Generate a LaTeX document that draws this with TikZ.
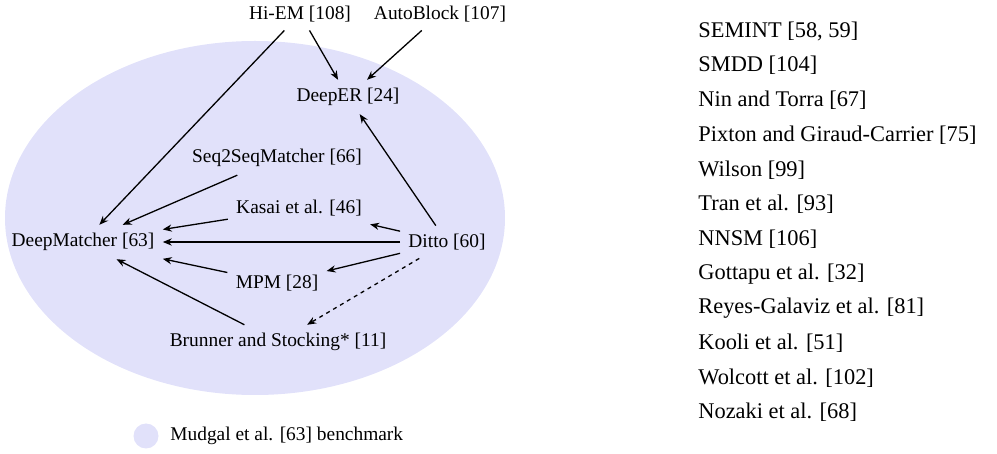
\documentclass[tikz,border=0pt]{standalone}
\usepackage{fontspec}
\setmainfont{Liberation Serif}
\usetikzlibrary{shapes}
\usetikzlibrary{arrows.meta}
\definecolor{benchblue}{RGB}{225,225,250}

\begin{document}
\begin{tikzpicture}[x=0.5pt,y=-0.5pt]
			\tikzstyle{paper}=[font=\fontsize{9.7}{11}\selectfont, inner sep=4pt]
			\tikzstyle{other}=[font=\fontsize{11.2}{13}\selectfont, inner sep=3pt, anchor=west]
			\tikzstyle{cites}=[-{Stealth[length=4.5pt,width=3.6pt]}, line width=0.65pt]
			\useasboundingbox (0,0) rectangle (997,454);
			
			% benchmark area
			\fill[benchblue] (255,218) ellipse [x radius=250, y radius=177];
			
			\node[paper] (hiem) at (300,14) {Hi-EM [108]};
			\node[paper] (autoblock) at (440,14) {AutoBlock [107]};
			\node[paper] (deeper) at (348,97) {DeepER [24]};
			\node[paper] (seqseq) at (277,158) {Seq2SeqMatcher [66]};
			\node[paper] (kasai) at (299,208) {Kasai et al. [46]};
			\node[paper] (deepmatcher) at (83,242) {DeepMatcher [63]};
			\node[paper] (ditto) at (447,242) {Ditto [60]};
			\node[paper] (mpm) at (277,283) {MPM [28]};
			\node[paper] (brunner) at (278,342) {Brunner and Stocking* [11]};
			
			\draw[cites] (hiem) -- (deepmatcher);
			\draw[cites] (hiem) -- (deeper);
			\draw[cites] (autoblock) -- (deeper);
			\draw[cites] (ditto) -- (deeper);
			\draw[cites] (seqseq) -- (deepmatcher);
			\draw[cites] (kasai) -- (deepmatcher);
			\draw[cites] (ditto) -- (kasai);
			\draw[cites] (ditto) -- (deepmatcher);
			\draw[cites] (ditto) -- (mpm);
			\draw[cites] (mpm) -- (deepmatcher);
			\draw[cites] (brunner) -- (deepmatcher);
			\draw[cites, dash pattern=on 2pt off 2pt] (ditto) -- (brunner);
			
			% legend
			\node[circle, fill=benchblue, inner sep=0pt, minimum size=12.5pt] (benchdot) at (146,436) {};
			\node[paper, anchor=west, inner sep=3pt] (benchtext) at (164,436) {Mudgal et al. [63] benchmark};
			
			% papers outside the graph
			\foreach \name [count=\i] in {{SEMINT [58, 59]}, {SMDD [104]}, {Nin and Torra [67]}, {Pixton and Giraud-Carrier [75]}, {Wilson [99]}, {Tran et al. [93]}, {NNSM [106]}, {Gottapu et al. [32]}, {Reyes-Galaviz et al. [81]}, {Kooli et al. [51]}, {Wolcott et al. [102]}, {Nozaki et al. [68]}}
				\node[other] (other\i) at (692,31+34.7*\i-34.7) {\name};
\end{tikzpicture}
\end{document}
